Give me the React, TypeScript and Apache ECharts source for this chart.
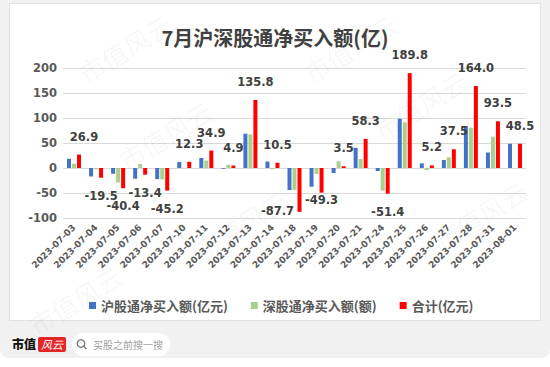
import React, { useEffect, useRef } from 'react';
import * as echarts from 'echarts';

const chartTitle = '7月沪深股通净买入额(亿)';
const categories = [
  '2023-07-03', '2023-07-04', '2023-07-05', '2023-07-06', '2023-07-07',
  '2023-07-10', '2023-07-11', '2023-07-12', '2023-07-13', '2023-07-14',
  '2023-07-18', '2023-07-19', '2023-07-20', '2023-07-21', '2023-07-24',
  '2023-07-25', '2023-07-26', '2023-07-27', '2023-07-28', '2023-07-31',
  '2023-08-01',
];
const seriesNames = ['沪股通净买入额(亿元)', '深股通净买入额(额)', '合计(亿元)'];
const shNet = [18.5, -17, -11.5, -21.5, -22.2, 12, 20, -1.5, 68.7, 13, -44, -37.5, -10, 40.5, -6, 98.5, 9.2, 16, 83.5, 31, 48.5];
const szNet = [8.4, -2.5, -28.9, 8.1, -23, 0.3, 14.9, 6.4, 67.1, -2.5, -43.7, -11.8, 13.5, 17.8, -45.4, 91.3, -4, 21.5, 80.5, 62.5, 0];
const totals = [26.9, -19.5, -40.4, -13.4, -45.2, 12.3, 34.9, 4.9, 135.8, 10.5, -87.7, -49.3, 3.5, 58.3, -51.4, 189.8, 5.2, 37.5, 164.0, 93.5, 48.5];
const yMin = -100;
const yMax = 200;
const yInterval = 50;
const brandName = '市值';
const brandMark = '风云';
const searchHint = '买股之前搜一搜';
const watermarkText = '市值风云';

export default function App() {
  const ref = useRef<HTMLDivElement>(null);

  useEffect(() => {
    if (!ref.current) return;
    const chart = echarts.init(ref.current, undefined, { renderer: 'svg', width: 550, height: 367 });
    const numFont = 'DejaVu Sans';
    const cjkFont = 'Noto Sans CJK SC';

    const labelTweaks: Record<number, any> = {
      0: { offset: [5, 0] },
      10: { distance: 0, offset: [-22, -7] },
      11: { distance: 1 },
    };

    const watermarkSpots = [
      [125, 48], [350, 48],
      [165, 135], [420, 105],
      [240, 225], [480, 215],
      [75, 300],
    ];

    chart.setOption({
      animation: false,
      backgroundColor: 'transparent',
      title: {
        text: chartTitle,
        left: 'center',
        top: 22,
        textStyle: { fontSize: 20, fontWeight: 'bold', color: '#404040', fontFamily: cjkFont },
      },
      legend: {
        data: seriesNames,
        left: 84,
        top: 294,
        icon: 'rect',
        itemWidth: 7,
        itemHeight: 7,
        itemGap: 23,
        textStyle: { fontSize: 13, fontWeight: 'bold', color: '#595959', fontFamily: cjkFont },
      },
      grid: { left: 63, right: 24, top: 68, bottom: 149, containLabel: false },
      xAxis: {
        type: 'category',
        data: categories,
        axisLine: { show: false, onZero: false },
        axisTick: { show: false },
        axisLabel: {
          interval: 0,
          rotate: 45,
          margin: 8,
          fontSize: 9,
          fontWeight: 'bold',
          color: '#595959',
          fontFamily: numFont,
        },
      },
      yAxis: {
        type: 'value',
        min: yMin,
        max: yMax,
        interval: yInterval,
        axisLine: { show: false },
        axisTick: { show: false },
        axisLabel: { fontSize: 11.5, fontWeight: 'bold', color: '#595959', fontFamily: numFont, margin: 6 },
        splitLine: { lineStyle: { color: '#d9d9d9', width: 1 } },
      },
      series: [
        {
          name: seriesNames[0],
          type: 'bar',
          data: shNet,
          barWidth: 4,
          barGap: '25%',
          itemStyle: { color: '#4472C4' },
        },
        {
          name: seriesNames[1],
          type: 'bar',
          data: szNet,
          barWidth: 4,
          barGap: '25%',
          itemStyle: { color: '#A9D18E' },
        },
        {
          name: seriesNames[2],
          type: 'bar',
          barWidth: 4,
          barGap: '25%',
          itemStyle: { color: '#FF0000' },
          data: totals.map((v, i) => ({
            value: v,
            label: {
              show: true,
              position: v >= 0 ? 'top' : 'bottom',
              distance: 12,
              ...(labelTweaks[i] || {}),
            },
          })),
          label: {
            show: true,
            fontSize: 11.5,
            fontWeight: 'bold',
            color: '#404040',
            fontFamily: numFont,
            formatter: (p: any) => Number(p.value).toFixed(1),
          },
        },
      ],
      graphic: [
        {
          type: 'text',
          left: 12,
          top: 337,
          style: { text: brandName, fontSize: 12, fontWeight: 900, fill: '#111', fontFamily: cjkFont },
        },
        {
          type: 'rect',
          shape: { x: 38, y: 337, width: 28, height: 15, r: 2 },
          style: { fill: '#e3262a' },
        },
        {
          type: 'text',
          x: 41,
          y: 338,
          style: { text: brandMark, fontSize: 11, fontStyle: 'italic', fill: '#fff', fontFamily: cjkFont },
        },
        {
          type: 'rect',
          shape: { x: 72, y: 333, width: 98, height: 23, r: 11.5 },
          style: { fill: '#ffffff' },
        },
        {
          type: 'circle',
          shape: { cx: 81, cy: 343.5, r: 3.8 },
          style: { fill: 'none', stroke: '#777', lineWidth: 1.3 },
        },
        {
          type: 'line',
          shape: { x1: 83.8, y1: 346.3, x2: 86.5, y2: 349 },
          style: { stroke: '#777', lineWidth: 1.4 },
        },
        {
          type: 'text',
          x: 93,
          y: 339,
          style: { text: searchHint, fontSize: 10, fill: '#a0a0a0', fontFamily: cjkFont },
        },
        ...watermarkSpots.map(([x, y]) => ({
          type: 'text',
          x,
          y,
          rotation: 0.55,
          z: 100,
          silent: true,
          style: {
            text: watermarkText,
            fontSize: 26,
            fill: 'rgba(0,0,0,0.04)',
            fontFamily: cjkFont,
            align: 'center',
            verticalAlign: 'middle',
          },
        })),
      ],
    });

    return () => chart.dispose();
  }, []);

  return (
    <div style={{ position: 'fixed', left: 0, top: 0, width: 550, height: 367, background: '#ffffff', overflow: 'hidden' }}>
      <div style={{ position: 'absolute', left: 0, top: 0, width: 550, height: 358, background: '#f1f1f1', borderRadius: '0 0 9px 9px' }} />
      <div style={{ position: 'absolute', left: 9, top: 3, width: 532, height: 318, background: '#ffffff', border: '1px solid #e2e2e2', boxSizing: 'border-box' }} />
      <div ref={ref} style={{ position: 'absolute', left: 0, top: 0, width: 550, height: 367 }} />
    </div>
  );
}
